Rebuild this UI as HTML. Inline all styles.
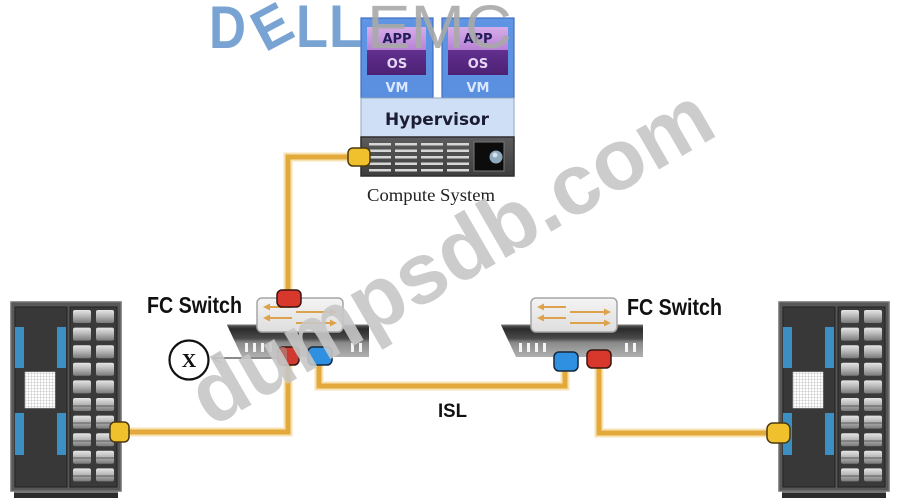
<!DOCTYPE html>
<html>
<head>
<meta charset="utf-8">
<style>
html,body{margin:0;padding:0;background:#fff;}
svg{display:block;}
</style>
</head>
<body>
<svg width="902" height="498" viewBox="0 0 902 498" xmlns="http://www.w3.org/2000/svg">
<defs>
  <linearGradient id="disk" x1="0" y1="0" x2="0" y2="1">
    <stop offset="0" stop-color="#e6e6e6"/>
    <stop offset="0.5" stop-color="#b4b4b4"/>
    <stop offset="1" stop-color="#7a7a7a"/>
  </linearGradient>
  <linearGradient id="swbase" x1="0" y1="0" x2="0" y2="1">
    <stop offset="0" stop-color="#5a5a5a"/>
    <stop offset="0.12" stop-color="#2c2c2c"/>
    <stop offset="0.42" stop-color="#4a4a4a"/>
    <stop offset="0.55" stop-color="#8a8a8a"/>
    <stop offset="1" stop-color="#b0b0b0"/>
  </linearGradient>
  <linearGradient id="swtop" x1="0" y1="0" x2="0" y2="1">
    <stop offset="0" stop-color="#f4f4f4"/>
    <stop offset="1" stop-color="#dedede"/>
  </linearGradient>
  <linearGradient id="vmblue" x1="0" y1="0" x2="0" y2="1">
    <stop offset="0" stop-color="#5f95e4"/>
    <stop offset="1" stop-color="#5a8fe0"/>
  </linearGradient>
  <linearGradient id="app" x1="0" y1="0" x2="0" y2="1">
    <stop offset="0" stop-color="#d7ade9"/>
    <stop offset="1" stop-color="#b782d6"/>
  </linearGradient>
  <linearGradient id="os" x1="0" y1="0" x2="0" y2="1">
    <stop offset="0" stop-color="#62308f"/>
    <stop offset="1" stop-color="#4c2174"/>
  </linearGradient>
  <linearGradient id="chassis" x1="0" y1="0" x2="0" y2="1">
    <stop offset="0" stop-color="#5c5c5c"/>
    <stop offset="1" stop-color="#3e3e3e"/>
  </linearGradient>
  <pattern id="grid" width="3" height="3" patternUnits="userSpaceOnUse">
    <rect width="3" height="3" fill="#ffffff"/>
    <path d="M3 0 V3 M0 3 H3" stroke="#9a9a9a" stroke-width="0.6"/>
  </pattern>

  <g id="rack">
    <rect x="0" y="0" width="110" height="189" fill="#575757" stroke="#707070" stroke-width="1.5"/>
    <rect x="4" y="5" width="52" height="180" fill="#383838" stroke="#222" stroke-width="1"/>
    <rect x="4" y="25" width="9" height="41" fill="#3b8fc3"/>
    <rect x="46" y="25" width="9" height="41" fill="#3b8fc3"/>
    <rect x="4" y="111" width="9" height="42" fill="#3b8fc3"/>
    <rect x="46" y="111" width="9" height="42" fill="#3b8fc3"/>
    <rect x="14" y="70" width="30" height="36" fill="url(#grid)" stroke="#ddd" stroke-width="0.5"/>
    <rect x="59" y="5" width="47" height="180" fill="#3a3a3a" stroke="#222" stroke-width="1"/>
    <g fill="url(#disk)">
      <rect x="62" y="8" width="18" height="13" rx="2"/><rect x="85" y="8" width="18" height="13" rx="2"/>
      <rect x="62" y="25.6" width="18" height="13" rx="2"/><rect x="85" y="25.6" width="18" height="13" rx="2"/>
      <rect x="62" y="43.2" width="18" height="13" rx="2"/><rect x="85" y="43.2" width="18" height="13" rx="2"/>
      <rect x="62" y="60.8" width="18" height="13" rx="2"/><rect x="85" y="60.8" width="18" height="13" rx="2"/>
      <rect x="62" y="78.4" width="18" height="13" rx="2"/><rect x="85" y="78.4" width="18" height="13" rx="2"/>
      <rect x="62" y="96" width="18" height="13" rx="2"/><rect x="85" y="96" width="18" height="13" rx="2"/>
      <rect x="62" y="113.6" width="18" height="13" rx="2"/><rect x="85" y="113.6" width="18" height="13" rx="2"/>
      <rect x="62" y="131.2" width="18" height="13" rx="2"/><rect x="85" y="131.2" width="18" height="13" rx="2"/>
      <rect x="62" y="148.8" width="18" height="13" rx="2"/><rect x="85" y="148.8" width="18" height="13" rx="2"/>
      <rect x="62" y="166.4" width="18" height="13" rx="2"/><rect x="85" y="166.4" width="18" height="13" rx="2"/>
    </g>
    <g stroke="#5a5a5a" stroke-width="1">
      <path d="M62 104 H80 M85 104 H103 M62 121 H80 M85 121 H103 M62 139 H80 M85 139 H103 M62 156 H80 M85 156 H103 M62 174 H80 M85 174 H103"/>
    </g>
    <rect x="3" y="189" width="104" height="8" fill="#2c2c2c"/>
    <rect x="3" y="189" width="104" height="2" fill="#777"/>
  </g>

  <g id="sw">
    <polygon points="227,325 369,325 369,357 242,357" fill="url(#swbase)"/>
    <polyline points="227,325 369,325" stroke="#777" stroke-width="1" fill="none"/>
    <g fill="#f4f4f4">
      <rect x="245" y="343" width="3" height="9"/>
      <rect x="253" y="343" width="3" height="9"/>
      <rect x="261" y="343" width="3" height="9"/>
      <rect x="269" y="343" width="3" height="9"/>
      <rect x="351" y="343" width="3" height="9"/>
      <rect x="359" y="343" width="3" height="9"/>
    </g>
    <rect x="257" y="298" width="86" height="34" rx="5" fill="url(#swtop)" stroke="#a5a5a5" stroke-width="1.5"/>
    <g stroke="#dea24c" stroke-width="2" fill="none">
      <path d="M268 307 H292 M268 318 H292 M296 312 H332 M296 323 H332"/>
    </g>
    <g fill="#dea24c">
      <polygon points="263,307 270,303.5 270,310.5"/>
      <polygon points="263,318 270,314.5 270,321.5"/>
      <polygon points="337,312 330,308.5 330,315.5"/>
      <polygon points="337,323 330,319.5 330,326.5"/>
    </g>
  </g>
</defs>

<rect width="902" height="498" fill="#ffffff"/>

<g fill="#78a3d3" font-family="'Liberation Sans', sans-serif" font-weight="bold">
  <text x="209" y="48" font-size="60" textLength="37" lengthAdjust="spacingAndGlyphs">D</text>
  <text x="272" y="27" font-size="58" text-anchor="middle" dominant-baseline="central" transform="rotate(-28 272 27)" textLength="36" lengthAdjust="spacingAndGlyphs">E</text>
  <text x="296" y="47" font-size="60" textLength="32" lengthAdjust="spacingAndGlyphs">L</text>
  <text x="329" y="47" font-size="60" textLength="33" lengthAdjust="spacingAndGlyphs">L</text>
</g>

<rect x="361" y="18" width="72" height="80" fill="url(#vmblue)" stroke="#3f6fc2" stroke-width="1.2"/>
<rect x="442" y="18" width="72" height="80" fill="url(#vmblue)" stroke="#3f6fc2" stroke-width="1.2"/>
<rect x="367" y="27" width="59" height="23" fill="url(#app)"/>
<rect x="367" y="50" width="59" height="25" fill="url(#os)"/>
<rect x="448" y="27" width="60" height="23" fill="url(#app)"/>
<rect x="448" y="50" width="60" height="25" fill="url(#os)"/>
<g font-family="'DejaVu Sans','Liberation Sans', sans-serif" font-weight="bold" font-size="13" text-anchor="middle">
  <text x="397" y="43" fill="#221c5a">APP</text>
  <text x="478" y="43" fill="#221c5a">APP</text>
  <text x="397" y="68" fill="#e6d6f6">OS</text>
  <text x="478" y="68" fill="#e6d6f6">OS</text>
  <text x="397" y="92" fill="#dbe6ff">VM</text>
  <text x="478" y="92" fill="#dbe6ff">VM</text>
</g>
<rect x="361" y="98" width="153" height="39" fill="#cfe0f6" stroke="#8fa6c0" stroke-width="1"/>
<text x="437" y="125" font-family="'DejaVu Sans','Liberation Sans', sans-serif" font-weight="bold" font-size="17" fill="#1c1c34" text-anchor="middle" textLength="104" lengthAdjust="spacingAndGlyphs">Hypervisor</text>
<rect x="361" y="137" width="153" height="39" fill="url(#chassis)" stroke="#2e2e2e" stroke-width="1.5"/>
<g fill="#d6d6d6">
  <rect x="369" y="143" width="22" height="2.5"/><rect x="395" y="143" width="22" height="2.5"/><rect x="421" y="143" width="22" height="2.5"/><rect x="447" y="143" width="22" height="2.5"/>
  <rect x="369" y="149.5" width="22" height="2.5"/><rect x="395" y="149.5" width="22" height="2.5"/><rect x="421" y="149.5" width="22" height="2.5"/><rect x="447" y="149.5" width="22" height="2.5"/>
  <rect x="369" y="156" width="22" height="2.5"/><rect x="395" y="156" width="22" height="2.5"/><rect x="421" y="156" width="22" height="2.5"/><rect x="447" y="156" width="22" height="2.5"/>
  <rect x="369" y="162.5" width="22" height="2.5"/><rect x="395" y="162.5" width="22" height="2.5"/><rect x="421" y="162.5" width="22" height="2.5"/><rect x="447" y="162.5" width="22" height="2.5"/>
  <rect x="369" y="169" width="22" height="2.5"/><rect x="395" y="169" width="22" height="2.5"/><rect x="421" y="169" width="22" height="2.5"/><rect x="447" y="169" width="22" height="2.5"/>
</g>
<rect x="474" y="142" width="30" height="29" fill="#0c0c0c" stroke="#777" stroke-width="1"/>
<circle cx="496" cy="157" r="6.5" fill="#8fa9bd"/>
<circle cx="495" cy="155" r="2.5" fill="#d4e2ee"/>

<text x="367" y="48" font-family="'Liberation Sans', sans-serif" font-size="61" fill="#a9a9a9" fill-opacity="0.9" textLength="145" lengthAdjust="spacingAndGlyphs">EMC</text>

<text x="431" y="201" font-family="'Liberation Serif', serif" font-size="17.5" fill="#222" text-anchor="middle" textLength="128" lengthAdjust="spacingAndGlyphs">Compute System</text>

<g fill="none" stroke-linejoin="miter">
  <g stroke="#f7e3b4" stroke-width="9">
    <path d="M350 157 H288 V294"/>
    <path d="M126 432 H288 V362"/>
    <path d="M319 362 V386 H565 V368"/>
    <path d="M599 364 V433 H769"/>
  </g>
  <g stroke="#e3a93a" stroke-width="5">
    <path d="M350 157 H288 V294"/>
    <path d="M126 432 H288 V362"/>
    <path d="M319 362 V386 H565 V368"/>
    <path d="M599 364 V433 H769"/>
  </g>
</g>

<use href="#rack" x="11" y="302"/>
<use href="#rack" x="779" y="302"/>

<use href="#sw"/>
<use href="#sw" x="274"/>

<rect x="277" y="290" width="24" height="17" rx="5" fill="#d8372c" stroke="#3a1510" stroke-width="1.5"/>
<rect x="278" y="347" width="21" height="18" rx="5" fill="#cf3a30" stroke="#3a1510" stroke-width="1.5"/>
<rect x="278" y="347" width="9" height="18" rx="4" fill="#b07a74" opacity="0.8"/>
<rect x="308" y="347" width="24" height="18" rx="5" fill="#2f8fe0" stroke="#14283c" stroke-width="1.5"/>
<rect x="554" y="352" width="24" height="19" rx="5" fill="#2f8fe0" stroke="#14283c" stroke-width="1.5"/>
<rect x="587" y="350" width="24" height="18" rx="5" fill="#d8372c" stroke="#3a1510" stroke-width="1.5"/>
<rect x="348" y="148" width="22" height="18" rx="5" fill="#f0c12c" stroke="#4a3a10" stroke-width="1.5"/>
<rect x="110" y="422" width="19" height="20" rx="5" fill="#f0c12c" stroke="#4a3a10" stroke-width="1.5"/>
<rect x="767" y="423" width="23" height="20" rx="6" fill="#f0c12c" stroke="#4a3a10" stroke-width="1.5"/>

<line x1="278" y1="358" x2="212" y2="358" stroke="#444" stroke-width="1.2"/>
<polyline points="221,353 212,358 221,363" fill="none" stroke="#999" stroke-width="1.5"/>
<circle cx="189" cy="360" r="19.5" fill="#fff" stroke="#111" stroke-width="2.2"/>
<text x="189" y="367" font-family="'Liberation Serif', serif" font-weight="bold" font-size="20" fill="#111" text-anchor="middle">X</text>

<g font-family="'Liberation Sans', sans-serif" font-weight="bold" fill="#111">
  <text x="147" y="313" font-size="23" textLength="95" lengthAdjust="spacingAndGlyphs">FC Switch</text>
  <text x="627" y="315" font-size="23" textLength="95" lengthAdjust="spacingAndGlyphs">FC Switch</text>
  <text x="438" y="417" font-size="19" textLength="29" lengthAdjust="spacingAndGlyphs">ISL</text>
</g>

<text x="211" y="428" transform="rotate(-30 211 428)" font-family="'Liberation Sans', sans-serif" font-weight="bold" font-size="86" fill="#c6c6c6" fill-opacity="0.9">dumpsdb.com</text>
</svg>
</body>
</html>
